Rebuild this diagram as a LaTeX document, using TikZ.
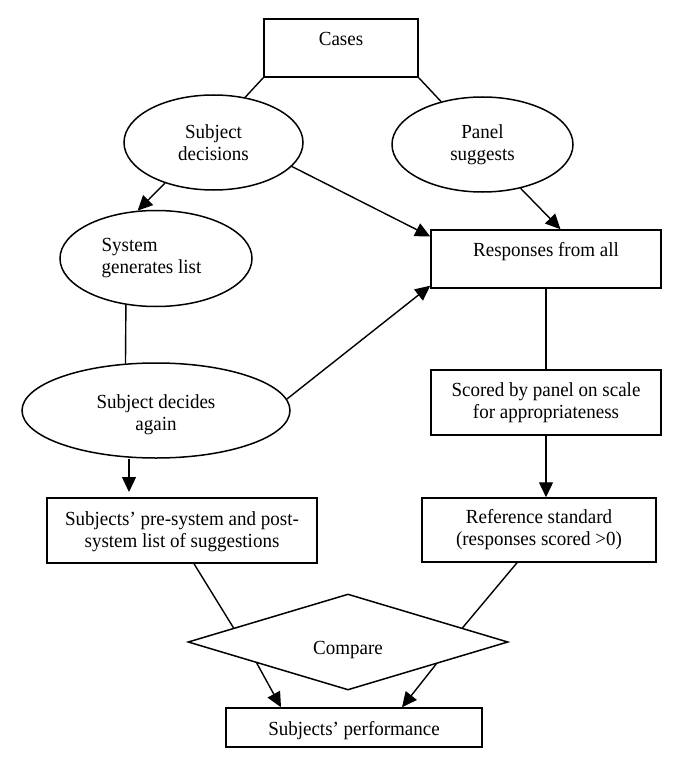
\documentclass[tikz,border=0pt]{standalone}
\usepackage{fontspec}
\setmainfont{Liberation Serif}[FakeStretch=0.95]
\usetikzlibrary{shapes.geometric,arrows.meta,calc}
\begin{document}
\begin{tikzpicture}[x=1pt,y=-1pt,
  every node/.style={font=\fontsize{20}{22}\selectfont, align=center, inner sep=0pt},
  box/.style={draw, line width=1.5pt, rectangle},
  oval/.style={draw, line width=1.5pt, ellipse},
  conn/.style={line width=1.4pt},
  arr/.style={conn, -{Triangle[length=15pt,width=14pt]}},
]
\useasboundingbox (0,0) rectangle (685,770);

\node[box, minimum width=154pt, minimum height=58pt, text height=14pt, text depth=18pt] (cases) at (341,48) {Cases};
\node[oval, minimum width=179pt, minimum height=95pt] (subjdec) at (213.5,142.5) {Subject\\decisions};
\node[oval, minimum width=181pt, minimum height=95pt] (panel) at (482.5,144.5) {Panel\\suggests};
\node[oval, minimum width=192pt, minimum height=96pt, align=left] (sysgen) at (156,258.5) {System\\generates list\hspace*{9pt}};
\node[oval, minimum width=268pt, minimum height=95pt] (again) at (156,410.5) {\rule{0pt}{22pt}Subject decides\\again};
\node[box, minimum width=230pt, minimum height=58pt, text height=14pt, text depth=18.6pt] (resp) at (546,259) {Responses from all};
\node[box, minimum width=230pt, minimum height=65pt] (scored) at (546,402.5) {Scored by panel on scale\\for appropriateness};
\node[box, minimum width=234pt, minimum height=64pt] (ref) at (539,530) {Reference standard\\(responses scored >0)};
\node[box, minimum width=270pt, minimum height=65pt] (pre) at (182,530.5) {\rule{0pt}{17pt}Subjects’ pre-system and post-\\system list of suggestions};
\node[diamond, draw, line width=1.5pt, minimum width=320pt, minimum height=96pt, aspect=3.33, text height=24pt, text depth=0pt] (cmp) at (348,642) {Compare};
\node[box, minimum width=256pt, minimum height=39pt, text height=15pt, text depth=0pt] (perf) at (354,727.5) {Subjects’ performance};

\draw[conn] (cases.south west) -- (subjdec.55);
\draw[conn] (cases.south east) -- (panel.134);
\draw[arr] (subjdec.220) -- (sysgen.111);
\draw[arr] (subjdec.-17) -- (resp.169);
\draw[arr] (panel.-49) -- (resp.64);
\draw[conn] (sysgen.237) -- (again.123);
\draw[arr] (again.5) -- (resp.193);
\draw[conn] (resp.south) -- (scored.north);
\draw[arr] (scored.south) -- (scored.south |- ref.north);
\coordinate (t1) at (129,492);
\draw[arr] (t1 |- again.south) -- (t1);
\draw[conn] ($(pre.south)+(12,0)$) -- (cmp.173);
\draw[conn] ($(ref.south)+(-22,0)$) -- (cmp.7);
\draw[arr] (cmp.193) -- ($(perf.north)+(-73,0)$);
\draw[arr] (cmp.-14) -- ($(perf.north)+(48,0)$);
\end{tikzpicture}
\end{document}
